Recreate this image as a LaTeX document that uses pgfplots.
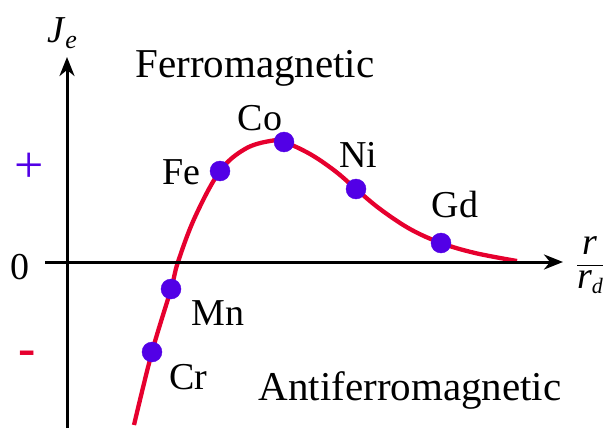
\documentclass[border=0pt]{standalone}
\usepackage{fontspec}
\setmainfont{Liberation Serif}
\usepackage{pgfplots}
\pgfplotsset{compat=1.18}
\usetikzlibrary{arrows.meta}
\definecolor{curvered}{RGB}{230,0,46}
\definecolor{dotblue}{RGB}{82,0,230}
\begin{document}
\begin{tikzpicture}
\begin{axis}[
x=1pt, y=1pt,
xmin=-67, xmax=541,
ymin=-166, ymax=262,
hide axis,
clip=false,
]
% keep the full frame as bounding box
\path (rel axis cs:0,0) rectangle (rel axis cs:1,1);
% Bethe-Slater curve
\addplot[color=curvered, line width=4.3pt, smooth, tension=0.6]
coordinates {
	(67,-163)(85,-90)(104,-27)(111,0)(128,45)(153,91)(178,113)(203,121)(217,120)
	(243,108)(268,91)(289,73)(313,53)(343,33)(374,19)(408,9)(450,1)
};
\addplot[only marks, mark=*, mark size=10pt, color=dotblue]
coordinates {
	(85,-90)(104,-27)(153,91)(217,120)(289,73)(374,19)
};
% axes
\draw[line width=3pt, -{Stealth[length=19pt,width=15pt,inset=6pt]}] (axis cs:-22,0) -- (axis cs:496,0);
\draw[line width=3pt, -{Stealth[length=19pt,width=15pt,inset=6pt]}] (axis cs:0,-166) -- (axis cs:0,205);
% labels
\begin{scope}[font=\fontsize{41}{48}\selectfont]
\node at (axis cs:188,194) {Ferromagnetic};
\node at (axis cs:343,-128) {Antiferromagnetic};
\end{scope}
\begin{scope}[font=\fontsize{38}{44}\selectfont]
\node at (axis cs:114,90) {Fe};
\node at (axis cs:193,144) {Co};
\node at (axis cs:291,107) {Ni};
\node at (axis cs:388,57) {Gd};
\node at (axis cs:151,-51) {Mn};
\node at (axis cs:121,-115) {Cr};
\node at (axis cs:-47,-5) {0};
\node at (axis cs:-5,229) {\textit{J}\raisebox{-0.35ex}{\fontsize{26}{30}\selectfont\textit{e}}};
\node at (axis cs:523,-3) {$\displaystyle\frac{\textit{r}}{\textit{r}\raisebox{-0.3ex}{\fontsize{22}{26}\selectfont\textit{d}}}$};
\end{scope}
\node[text=dotblue, font=\fontsize{52}{60}\selectfont] at (axis cs:-38,94) {+};
\node[text=curvered, font=\fontsize{52}{60}\selectfont\bfseries] at (axis cs:-40,-96) {-};
\end{axis}
\end{tikzpicture}
\end{document}
